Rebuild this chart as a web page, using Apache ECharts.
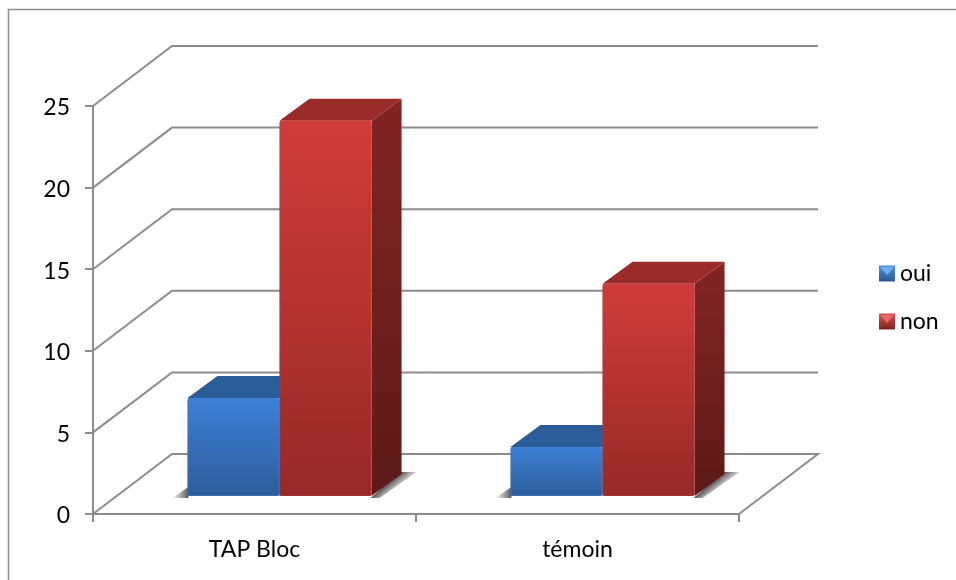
<!DOCTYPE html>
<html>
<head>
<meta charset="utf-8">
<style>
  html, body { margin: 0; padding: 0; background: #fff; }
  #main { width: 956px; height: 580px; }
</style>
<script src="https://cdn.jsdelivr.net/npm/echarts@6/dist/echarts.min.js"></script>
</head>
<body>
<div id="main"></div>
<script>
const categories = ['TAP Bloc', 'témoin']
const seriesNames = ['oui', 'non']
const ouiValues = [6, 3]
const nonValues = [23, 13]
const yTicks = [0, 5, 10, 15, 20, 25]

const font = 'Lato'
const grey = '#8c8c8c'

// décalage du mur du fond et profondeur des barres (3D simulée)
const wallDx = 79
const wallDy = 60
const barDx = 30
const barDy = 22
const floorDx = 25
const floorDy = 18
const barRatio = 0.285

function vgrad(top, bottom) {
  return new echarts.graphic.LinearGradient(0, 0, 0, 1, [
    { offset: 0, color: top },
    { offset: 1, color: bottom },
  ])
}

const palette = {
  oui: { front: ['#3d80d6', '#2d5d9c'], side: ['#24528a', '#1c416e'], top: '#2a5c97', edge: '#4a8ad8' },
  non: { front: ['#d03c39', '#962927'], side: ['#822523', '#5c1a18'], top: '#9a2b29', edge: '#c23b38' },
}

let myChart = echarts.init(document.getElementById('main'))

function renderWall(params, api) {
  const cs = params.coordSys
  const y = api.coord([0, api.value(0)])[1]
  const left = cs.x
  const right = cs.x + cs.width
  const points = [
    [left, y],
    [left + wallDx, y - wallDy],
    [right + wallDx, y - wallDy],
  ]
  if (api.value(0) === 0) points.push([right, y])
  return {
    type: 'polyline',
    shape: { points: points },
    style: { fill: null, stroke: grey, lineWidth: 2 },
  }
}

// ombre portée sur le sol : coin à gauche, bande dégradée à droite
function renderShadow(params, api) {
  const base = api.coord([api.value(0), 0])
  const w = api.size([1, 0])[0] * barRatio
  const x0 = base[0] + floorDx - w
  const x1 = base[0] + floorDx + w
  const yb = base[1] - floorDy
  const mx = x1 + barDx / 2
  const my = yb - barDy / 2
  return {
    type: 'group',
    children: [
      {
        type: 'polygon',
        shape: { points: [[x0 - 15, yb + 2], [x0 + 1, yb - 9], [x0 + 1, yb + 2]] },
        style: {
          fill: new echarts.graphic.LinearGradient(x0 - 15, 0, x0 + 1, 0, [
            { offset: 0, color: 'rgba(110,110,110,0.1)' },
            { offset: 1, color: 'rgba(70,70,70,0.9)' },
          ], true),
        },
      },
      {
        type: 'polygon',
        shape: {
          points: [
            [x1 - 1, yb + 2],
            [x1 + barDx - 1, yb - barDy - 2],
            [x1 + barDx + 15, yb - barDy - 2],
            [x1 + 8, yb + 2],
          ],
        },
        style: {
          fill: new echarts.graphic.LinearGradient(mx, my, mx + 9, my + 11, [
            { offset: 0, color: 'rgba(70,70,70,0.9)' },
            { offset: 1, color: 'rgba(130,130,130,0)' },
          ], true),
        },
      },
    ],
  }
}

function barRenderer(name, index) {
  const colors = palette[name]
  return function (params, api) {
    const base = api.coord([api.value(0), 0])
    const topPt = api.coord([api.value(0), api.value(1)])
    const w = api.size([1, 0])[0] * barRatio
    const x0 = base[0] + floorDx + (index - 1) * w
    const x1 = x0 + w
    const yb = base[1] - floorDy
    const yt = topPt[1] - floorDy
    return {
      type: 'group',
      children: [
        {
          type: 'polygon',
          shape: { points: [[x1, yt], [x1 + barDx, yt - barDy], [x1 + barDx, yb - barDy], [x1, yb]] },
          style: { fill: vgrad(colors.side[0], colors.side[1]) },
        },
        {
          type: 'polygon',
          shape: { points: [[x0, yt], [x0 + barDx, yt - barDy], [x1 + barDx, yt - barDy], [x1, yt]] },
          style: { fill: colors.top },
        },
        {
          type: 'rect',
          shape: { x: x0, y: yt, width: w, height: yb - yt, r: 2 },
          style: { fill: vgrad(colors.front[0], colors.front[1]) },
        },
        {
          type: 'rect',
          shape: { x: x0 + 0.5, y: yt + 0.5, width: w - 1, height: yb - yt - 1, r: 2 },
          style: { fill: null, stroke: colors.edge, lineWidth: 1, opacity: 0.35 },
        },
      ],
    }
  }
}

let option = {
  backgroundColor: '#fff',
  animation: false,
  textStyle: { fontFamily: font },
  grid: { left: 93, top: 106, width: 646, height: 408, containLabel: false },
  legend: {
    left: 879,
    top: 262,
    padding: 0,
    orient: 'vertical',
    itemWidth: 16,
    itemHeight: 16,
    itemGap: 25,
    icon: 'rect',
    textStyle: { fontFamily: font, fontSize: 23, color: '#000' },
    data: [
      { name: 'oui', itemStyle: { color: vgrad('#4d92e0', '#2a5890') } },
      { name: 'non', itemStyle: { color: vgrad('#dc4f4b', '#7e2220') } },
    ],
  },
  xAxis: {
    type: 'category',
    data: categories,
    axisLine: { lineStyle: { color: grey, width: 2 } },
    axisTick: { show: true, alignWithLabel: false, length: 8, lineStyle: { color: grey, width: 2 } },
    axisLabel: { fontFamily: font, fontSize: 23, color: '#000', margin: 24 },
  },
  yAxis: {
    type: 'value',
    min: 0,
    max: 25,
    interval: 5,
    splitLine: { show: false },
    axisLine: { show: true, lineStyle: { color: grey, width: 2 } },
    axisTick: { show: true, length: 8, lineStyle: { color: grey, width: 2 } },
    axisLabel: {
      margin: 23,
      formatter: '{a|{value}}',
      rich: { a: { fontFamily: font, fontSize: 23, color: '#000', padding: [4, 0, 0, 0] } },
    },
  },
  graphic: [
    {
      // le cadre n'est visible qu'en haut et à gauche
      type: 'polyline',
      shape: { points: [[8.5, 580], [8.5, 9.5], [956, 9.5]] },
      style: { fill: null, stroke: grey, lineWidth: 1.5 },
      silent: true,
      z: -1,
    },
    {
      type: 'polygon',
      shape: { points: [[880, 267], [894, 267], [887, 275]] },
      style: { fill: '#6db0ee' },
      silent: true,
      z: 100,
    },
    {
      type: 'polygon',
      shape: { points: [[880, 315], [894, 315], [887, 323]] },
      style: { fill: '#e86a64' },
      silent: true,
      z: 100,
    },
  ],
  series: [
    {
      type: 'custom',
      name: 'wall',
      coordinateSystem: 'cartesian2d',
      renderItem: renderWall,
      encode: { y: 0 },
      data: yTicks.map((v) => [v]),
      silent: true,
      z: 1,
    },
    {
      type: 'custom',
      name: 'shadow',
      renderItem: renderShadow,
      encode: { x: 0 },
      data: categories.map((c, i) => [i]),
      silent: true,
      z: 2,
    },
    {
      type: 'custom',
      name: seriesNames[0],
      renderItem: barRenderer('oui', 0),
      encode: { x: 0, y: 1 },
      data: ouiValues.map((v, i) => [i, v]),
      z: 3,
    },
    {
      type: 'custom',
      name: seriesNames[1],
      renderItem: barRenderer('non', 1),
      encode: { x: 0, y: 1 },
      data: nonValues.map((v, i) => [i, v]),
      z: 4,
    },
  ],
}
myChart.setOption(option)
</script>
</body>
</html>
